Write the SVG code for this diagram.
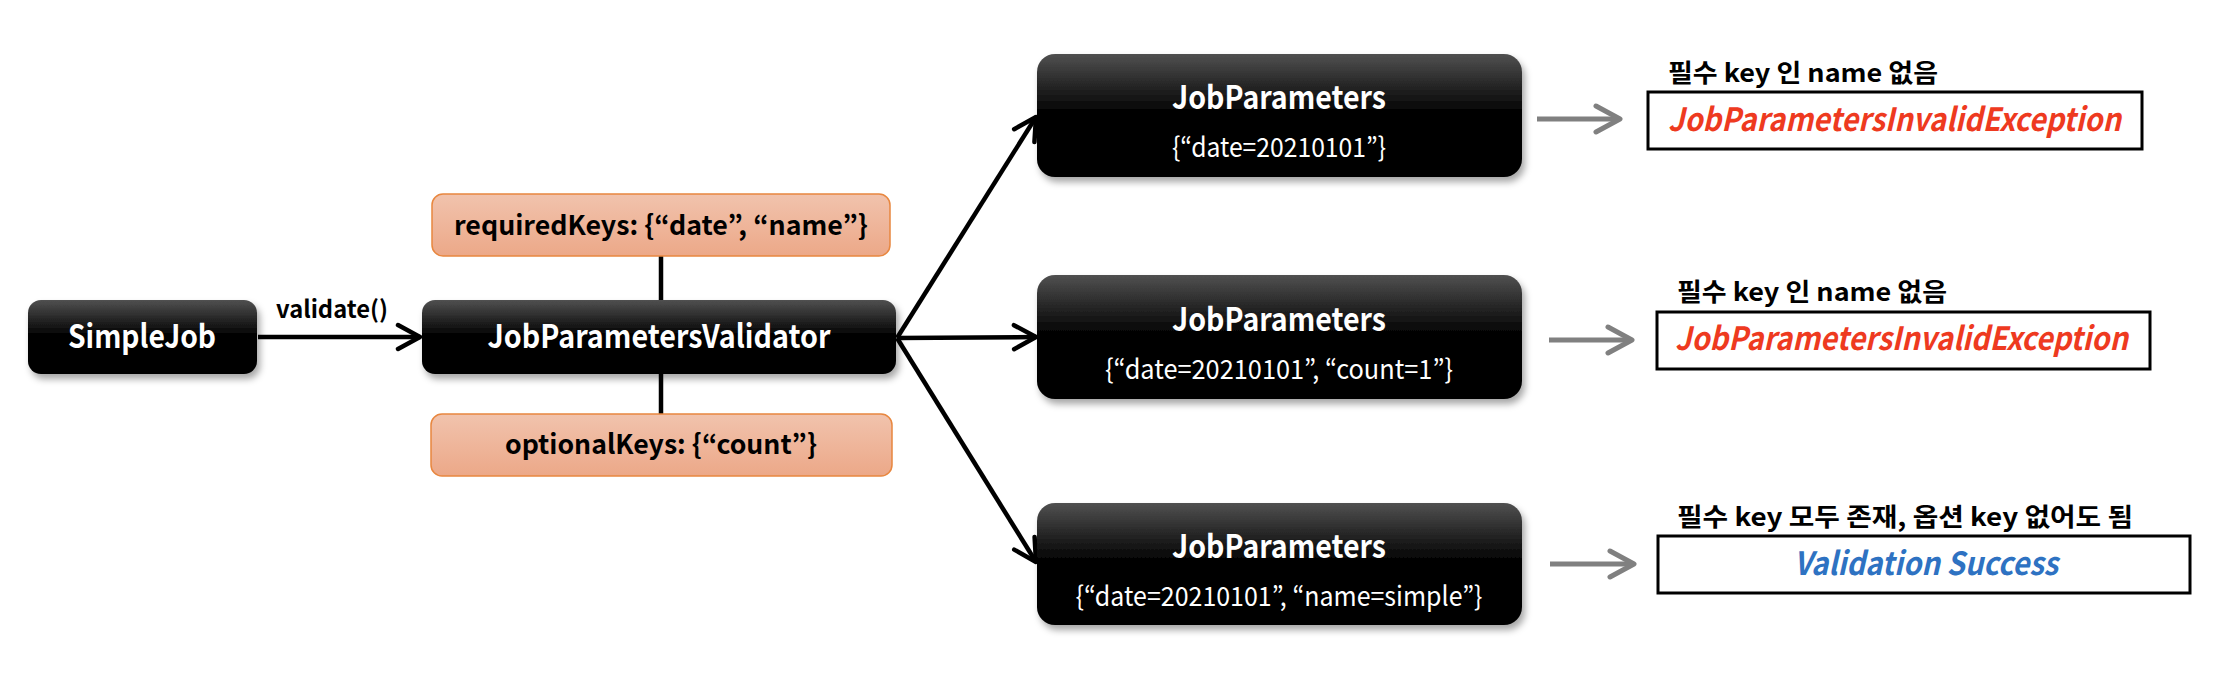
<svg xmlns="http://www.w3.org/2000/svg" width="2220" height="684" viewBox="0 0 2220 684">
<defs>
  <linearGradient id="gBlack" x1="0" y1="0" x2="0" y2="1">
    <stop offset="0" stop-color="#505050"/>
    <stop offset="0.45" stop-color="#060606"/>
    <stop offset="1" stop-color="#000000"/>
  </linearGradient>
  <linearGradient id="gOrange" x1="0" y1="0" x2="0" y2="1">
    <stop offset="0" stop-color="#f1c3ad"/>
    <stop offset="1" stop-color="#eca888"/>
  </linearGradient>
  <filter id="shadow" x="-10%" y="-20%" width="125%" height="150%">
    <feDropShadow dx="3" dy="5" stdDeviation="3.5" flood-color="#000" flood-opacity="0.35"/>
  </filter>
  <marker id="arrowBlack" viewBox="0 0 30 30" refX="26" refY="15" markerWidth="30" markerHeight="30" markerUnits="userSpaceOnUse" orient="auto">
    <path d="M4,3 L26,15 L4,27" fill="none" stroke="#000" stroke-width="4.5" stroke-linecap="round" stroke-linejoin="round"/>
  </marker>
  <marker id="arrowGray" viewBox="0 0 32 32" refX="28" refY="16" markerWidth="32" markerHeight="32" markerUnits="userSpaceOnUse" orient="auto">
    <path d="M4,3 L28,16 L4,29" fill="none" stroke="#808080" stroke-width="5" stroke-linecap="round" stroke-linejoin="round"/>
  </marker>
</defs>
<style>
  text { font-family: "Noto Sans CJK KR", "Noto Sans", sans-serif; }
  .blk { fill: url(#gBlack); filter: url(#shadow); }
  .org { fill: url(#gOrange); stroke: #e8873f; stroke-width: 1.5; }
  .title { fill: #ffffff; font-weight: bold; font-size: 32px; text-anchor: middle; }
  .sub { fill: #ffffff; font-size: 27px; text-anchor: middle; }
  .key { fill: #000; font-weight: bold; font-size: 27px; text-anchor: middle; }
  .lbl { fill: #000; font-weight: bold; font-size: 25px; }
  .res { fill: #fff; stroke: #000; stroke-width: 3; }
  .red { fill: #ee3a1f; font-weight: bold; font-style: italic; font-size: 32px; }
  .blue { fill: #2e72c2; font-weight: bold; font-style: italic; font-size: 32px; text-anchor: middle; }
  .conn { stroke: #000; stroke-width: 4.5; fill: none; }
  .gconn { stroke: #808080; stroke-width: 5; fill: none; }
</style>

<g id="connectors">
  <line class="conn" x1="258" y1="337" x2="420" y2="337" marker-end="url(#arrowBlack)"/>
  <line class="conn" x1="661" y1="256" x2="661" y2="301"/>
  <line class="conn" x1="661" y1="374" x2="661" y2="414"/>
  <line class="conn" x1="897" y1="338" x2="1036" y2="117" marker-end="url(#arrowBlack)"/>
  <line class="conn" x1="897" y1="338" x2="1036" y2="337" marker-end="url(#arrowBlack)"/>
  <line class="conn" x1="897" y1="338" x2="1036" y2="562" marker-end="url(#arrowBlack)"/>
  <line class="gconn" x1="1537" y1="119" x2="1620" y2="119" marker-end="url(#arrowGray)"/>
  <line class="gconn" x1="1549" y1="340" x2="1632" y2="340" marker-end="url(#arrowGray)"/>
  <line class="gconn" x1="1550" y1="564" x2="1634" y2="564" marker-end="url(#arrowGray)"/>
  <text x="332" y="318" style="font-weight:bold;font-size:24px;fill:#000;text-anchor:middle" textLength="112" lengthAdjust="spacingAndGlyphs">validate()</text>
</g>

<g id="simpleJob">
  <rect class="blk" x="28" y="300" width="229" height="74" rx="13"/>
  <text class="title" x="142" y="348" textLength="148" lengthAdjust="spacingAndGlyphs">SimpleJob</text>
</g>

<g id="validator">
  <rect class="blk" x="422" y="300" width="474" height="74" rx="13"/>
  <text class="title" x="659" y="348" textLength="343" lengthAdjust="spacingAndGlyphs">JobParametersValidator</text>
</g>

<g id="requiredKeys">
  <rect class="org" x="432" y="194" width="458" height="62" rx="11"/>
  <text class="key" x="661" y="235" textLength="414" lengthAdjust="spacingAndGlyphs">requiredKeys: {“date”, “name”}</text>
</g>

<g id="optionalKeys">
  <rect class="org" x="431" y="414" width="461" height="62" rx="11"/>
  <text class="key" x="661" y="454" textLength="312" lengthAdjust="spacingAndGlyphs">optionalKeys: {“count”}</text>
</g>

<g id="jobParams1">
  <rect class="blk" x="1037" y="54" width="485" height="123" rx="18"/>
  <text class="title" x="1279" y="109" textLength="214" lengthAdjust="spacingAndGlyphs">JobParameters</text>
  <text class="sub" x="1279" y="157" textLength="214" lengthAdjust="spacingAndGlyphs">{“date=20210101”}</text>
</g>

<g id="jobParams2">
  <rect class="blk" x="1037" y="275" width="485" height="124" rx="18"/>
  <text class="title" x="1279" y="331" textLength="214" lengthAdjust="spacingAndGlyphs">JobParameters</text>
  <text class="sub" x="1279" y="379" textLength="348" lengthAdjust="spacingAndGlyphs">{“date=20210101”, “count=1”}</text>
</g>

<g id="jobParams3">
  <rect class="blk" x="1037" y="503" width="485" height="122" rx="18"/>
  <text class="title" x="1279" y="558" textLength="214" lengthAdjust="spacingAndGlyphs">JobParameters</text>
  <text class="sub" x="1279" y="606" textLength="407" lengthAdjust="spacingAndGlyphs">{“date=20210101”, “name=simple”}</text>
</g>

<g id="result1">
  <text class="lbl" x="1668" y="82" textLength="270" lengthAdjust="spacingAndGlyphs">필수 key 인 name 없음</text>
  <rect class="res" x="1648" y="92" width="494" height="57"/>
  <text class="red" x="1668" y="131" textLength="453" lengthAdjust="spacingAndGlyphs">JobParametersInvalidException</text>
</g>

<g id="result2">
  <text class="lbl" x="1677" y="301" textLength="270" lengthAdjust="spacingAndGlyphs">필수 key 인 name 없음</text>
  <rect class="res" x="1657" y="312" width="493" height="57"/>
  <text class="red" x="1675" y="350" textLength="453" lengthAdjust="spacingAndGlyphs">JobParametersInvalidException</text>
</g>

<g id="result3">
  <text class="lbl" x="1677" y="526" textLength="456" lengthAdjust="spacingAndGlyphs">필수 key 모두 존재, 옵션 key 없어도 됨</text>
  <rect class="res" x="1658" y="536" width="532" height="57"/>
  <text class="blue" x="1926" y="575" textLength="264" lengthAdjust="spacingAndGlyphs">Validation Success</text>
</g>
</svg>
